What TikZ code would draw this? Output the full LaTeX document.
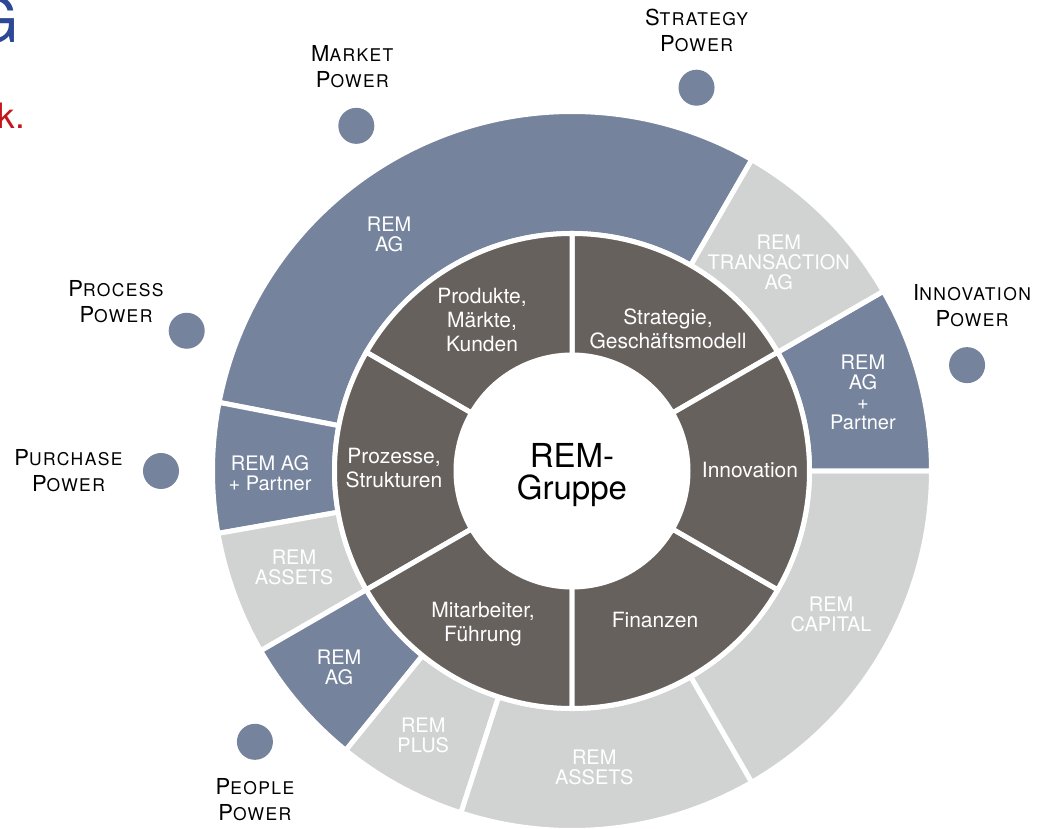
\documentclass[tikz,border=0pt]{standalone}
\usepackage{fontspec}
\setmainfont{TeX Gyre Heros}
\usetikzlibrary{positioning}
\definecolor{remblue}{RGB}{117,131,157}
\definecolor{remdark}{RGB}{103,97,94}
\definecolor{remgrey}{RGB}{209,211,210}
\definecolor{titleblue}{RGB}{44,72,150}
\definecolor{titlered}{RGB}{196,22,28}
\newcommand{\pwcap}[2]{{\fontsize{22}{26}\selectfont #1}{\fontsize{17.5}{26}\selectfont #2}}
% annular sector: style, start angle, end angle, inner radius, outer radius
\newcommand{\ringseg}[5]{\path[#1] (#2:#5) arc[start angle=#2, end angle=#3, radius=#5]
	-- (#3:#4) arc[start angle=#3, end angle=#2, radius=#4] -- cycle;}
\tikzset{%
	seg/.style={draw=white, line width=5pt, line join=miter},
	blueseg/.style={seg, fill=remblue},
	greyseg/.style={seg, fill=remgrey},
	darkseg/.style={seg, fill=remdark},
	outertext/.style={text=white, align=center, inner sep=0pt, font=\fontsize{20}{20}\selectfont},
	innertext/.style={text=white, align=center, inner sep=0pt, font=\fontsize{21}{24}\selectfont},
	dot/.style={circle, fill=remblue, minimum size=36pt, inner sep=0pt},
	powerlabel/.style={align=center, inner sep=0pt, font=\addfontfeature{LetterSpace=8}\fontsize{22}{26}\selectfont},
	fragment/.style={anchor=base east, inner sep=0pt}
}

\begin{document}
\begin{tikzpicture}[x=1pt, y=1pt]
	\useasboundingbox (-572,-358) rectangle (479,471);

	% cut title lines at the top left
	\node[fragment, text=titleblue, font=\fontsize{62}{62}\selectfont] (titlefrag) at (-553,428) {G};
	\node[fragment, text=titlered, font=\fontsize{35}{35}\selectfont] (subtitlefrag) at (-547,342) {k.};

	% outer ring
	\ringseg{blueseg}{60}{169}{237.5}{359.5}
	\ringseg{blueseg}{169}{190}{237.5}{359.5}
	\ringseg{greyseg}{190}{210}{237.5}{359.5}
	\ringseg{blueseg}{210}{231}{237.5}{359.5}
	\ringseg{greyseg}{231}{252}{237.5}{359.5}
	\ringseg{greyseg}{252}{300}{237.5}{359.5}
	\ringseg{greyseg}{300}{360}{237.5}{359.5}
	\ringseg{blueseg}{0}{30}{237.5}{359.5}
	\ringseg{greyseg}{30}{60}{237.5}{359.5}

	% inner ring
	\ringseg{darkseg}{30}{90}{116}{237.5}
	\ringseg{darkseg}{90}{150}{116}{237.5}
	\ringseg{darkseg}{150}{210}{116}{237.5}
	\ringseg{darkseg}{210}{270}{116}{237.5}
	\ringseg{darkseg}{270}{330}{116}{237.5}
	\ringseg{darkseg}{-30}{30}{116}{237.5}

	\node[outertext] (agtop) at (127.7:299) {REM\\AG};
	\node[outertext] (transaction) at (45.3:294) {REM\\TRANSACTION\\AG};
	\node[outertext] (partnerright) at (15.2:301.5) {REM\\AG\\+\\Partner};
	\node[outertext] (capital) at (-28.9:296) {REM\\CAPITAL};
	\node[outertext] (assetsbottom) at (-85.7:297) {REM\\ASSETS};
	\node[outertext] (plus) at (240.6:303) {REM\\PLUS};
	\node[outertext] (agbottom) at (220.2:305) {REM\\AG};
	\node[outertext] (assetsleft) at (199.2:294.4) {REM\\ASSETS};
	\node[outertext] (partnerleft) at (180.4:302) {REM AG\\+ Partner};

	\node[innertext] (produkte) at (-90,151) {Produkte,\\Märkte,\\Kunden};
	\node[innertext] (strategie) at (96,142.5) {Strategie,\\Geschäftsmodell};
	\node[innertext] (innovation) at (178,1) {Innovation};
	\node[innertext] (finanzen) at (83,-149) {Finanzen};
	\node[innertext] (mitarbeiter) at (-89,-153) {Mitarbeiter,\\Führung};
	\node[innertext] (prozesse) at (-178,2.5) {Prozesse,\\Strukturen};

	\node[align=center, inner sep=0pt, font=\fontsize{33}{32}\selectfont] (gruppe) at (0,-4) {REM-\\Gruppe};

	% power dots
	\node[dot] (market) at (122:407) {};
	\node[dot] (strategy) at (72:403) {};
	\node[dot] (innov) at (15:409) {};
	\node[dot] (process) at (160:410) {};
	\node[dot] (purchase) at (180:411) {};
	\node[dot] (people) at (220.5:417) {};

	\node[powerlabel, above=20pt of market, xshift=-4pt] (marketlabel) {\pwcap{M}{ARKET}\\\pwcap{P}{OWER}};
	\node[powerlabel, above=17pt of strategy] (strategylabel) {\pwcap{S}{TRATEGY}\\\pwcap{P}{OWER}};
	\node[powerlabel, above=20pt of innov, xshift=5pt] (innovlabel) {\pwcap{I}{NNOVATION}\\\pwcap{P}{OWER}};
	\node[powerlabel, above left=-5pt and 10pt of process] (processlabel) {\pwcap{P}{ROCESS}\\\pwcap{P}{OWER}};
	\node[powerlabel, left=20pt of purchase] (purchaselabel) {\pwcap{P}{URCHASE}\\\pwcap{P}{OWER}};
	\node[powerlabel, below=18pt of people] (peoplelabel) {\pwcap{P}{EOPLE}\\\pwcap{P}{OWER}};
\end{tikzpicture}
\end{document}
